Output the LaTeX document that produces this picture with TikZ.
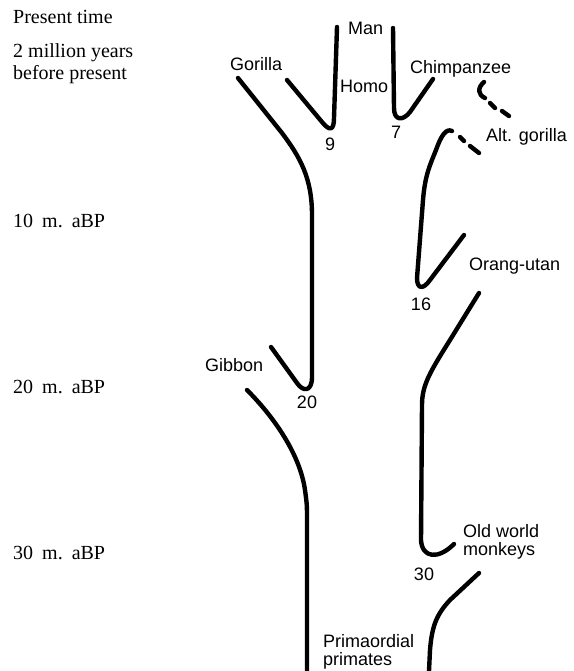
\documentclass[tikz,border=0pt]{standalone}
\usepackage{fontspec}
\setsansfont{Liberation Sans}
\newfontfamily\erafont{Liberation Serif}
\newcommand{\erasp}{\hspace{9pt}}
\begin{document}
\begin{tikzpicture}[x=1pt,y=-1pt,
  lineage/.style={line width=4.4pt,line cap=round,line join=round},
  era/.style={font=\erafont\fontsize{20}{22}\selectfont,anchor=base west,inner sep=0pt},
  taxon/.style={font=\sffamily\fontsize{18}{20}\selectfont,anchor=base west,inner sep=0pt},
  num/.style={font=\sffamily\fontsize{18}{20}\selectfont,anchor=base,inner sep=0pt}]
\useasboundingbox (0,0) rectangle (573,671);
% time scale
\node[era] (t0) at (13,24) {Present time};
\node[era] (t2a) at (13,58) {2 million years};
\node[era] (t2b) at (13,80) {before present};
\node[era] (t10) at (13,227) {10\erasp m.\erasp aBP};
\node[era] (t20) at (13,393) {20\erasp m.\erasp aBP};
\node[era] (t30) at (13,559) {30\erasp m.\erasp aBP};
% taxa
\node[taxon] (man) at (348,35) {Man};
\node[taxon] (gor) at (230,71) {Gorilla};
\node[taxon] (homo) at (340,93) {Homo};
\node[taxon] (chimp) at (410,74) {Chimpanzee};
\node[taxon] (altg) at (486,142) {Alt. gorilla};
\node[taxon] (orang) at (469,270) {Orang-utan};
\node[taxon] (gib) at (205,371) {Gibbon};
\node[taxon] (owm1) at (463,537) {Old world};
\node[taxon] (owm2) at (463,555) {monkeys};
\node[taxon] (pp1) at (323,647) {Primaordial};
\node[taxon] (pp2) at (323,665) {primates};
% branch numbers
\node[num] (n9) at (330,150) {9};
\node[num] (n7) at (396,139) {7};
\node[num] (n16) at (421,310) {16};
\node[num] (n20) at (307,408) {20};
\node[num] (n30) at (424,580) {30};
% lineages
\draw[lineage] (238,78) -- (282,133) .. controls (300,157) and (312,178) .. (312,215)
  -- (312,377) .. controls (312,392) and (303,392) .. (297,383) -- (271,347);
\draw[lineage] (287,80) -- (322,122) .. controls (330,132) and (334,130) .. (334,118) -- (337,27);
\draw[lineage] (393,28) -- (394,108) .. controls (394,121) and (403,121) .. (410,112) -- (433,79);
\draw[lineage] (484,82) .. controls (477,88) and (478,95) .. (485,98);
\draw[lineage] (490,103) -- (495,108);
\draw[lineage] (502,111) -- (509,116);
\draw[lineage] (464,235) -- (430,280) .. controls (423,290) and (417,289) .. (417,278)
  -- (423,200) .. controls (425,175) and (430,165) .. (436,150)
  .. controls (441,136) and (446,128) .. (452,131);
\draw[lineage] (460,137) -- (464,141);
\draw[lineage] (470,146) -- (479,153);
\draw[lineage] (479,293) -- (450,340) .. controls (430,372) and (422,385) .. (422,405)
  -- (421,540) .. controls (422,558) and (438,560) .. (454,544);
\draw[lineage] (479,573) -- (450,600) .. controls (437,614) and (432,625) .. (430,650) -- (429,671);
\draw[lineage] (247,390) .. controls (275,418) and (300,455) .. (305,490)
  .. controls (307,505) .. (307,520) -- (307,671);
\end{tikzpicture}
\end{document}
